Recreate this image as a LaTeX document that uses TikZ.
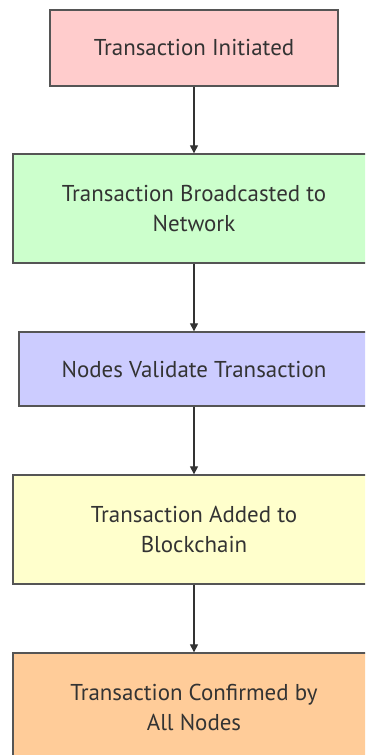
\documentclass[tikz,border=0pt]{standalone}
\usepackage{fontspec}
\setmainfont{PT Sans}
\usetikzlibrary{arrows.meta,positioning}
\definecolor{initfill}{HTML}{FFCCCC}
\definecolor{bcastfill}{HTML}{CCFFCC}
\definecolor{validfill}{HTML}{CCCCFF}
\definecolor{addedfill}{HTML}{FFFFCC}
\definecolor{confirmfill}{HTML}{FFCC99}
\definecolor{edgegray}{HTML}{555555}
\definecolor{textgray}{HTML}{333333}

\begin{document}
\begin{tikzpicture}[
    x=0.75pt, y=-0.75pt,
    stepbox/.style={draw=edgegray, line width=1pt, font=\fontsize{17.2}{22.5}\selectfont, text=textgray, minimum width=271.5pt, minimum height=81.75pt, align=center, inner sep=0pt},
    >={Triangle[length=6pt,width=6pt]},
    flow/.style={draw=black!80, line width=0.9pt, ->}
  ]
  \useasboundingbox (0,0) rectangle (365,755);
  \clip (0,0) rectangle (365,755);

  % Steps
  \node[stepbox, fill=initfill, minimum width=216pt, minimum height=57pt] (init) at (194,48) {Transaction Initiated};
  \node[stepbox, fill=bcastfill] (bcast) at (194,208.5) {Transaction Broadcasted to\\Network};
  \node[stepbox, fill=validfill, minimum width=262.5pt, minimum height=55.5pt] (valid) at (194,369) {Nodes Validate Transaction};
  \node[stepbox, fill=addedfill] (added) at (194,529.5) {Transaction Added to\\Blockchain};
  \node[stepbox, fill=confirmfill] (confirm) at (194,707.5) {Transaction Confirmed by\\All Nodes};

  % Edges
  \draw[flow] (init) -- (bcast);
  \draw[flow] (bcast) -- (valid);
  \draw[flow] (valid) -- (added);
  \draw[flow] (added) -- (confirm);
\end{tikzpicture}
\end{document}
